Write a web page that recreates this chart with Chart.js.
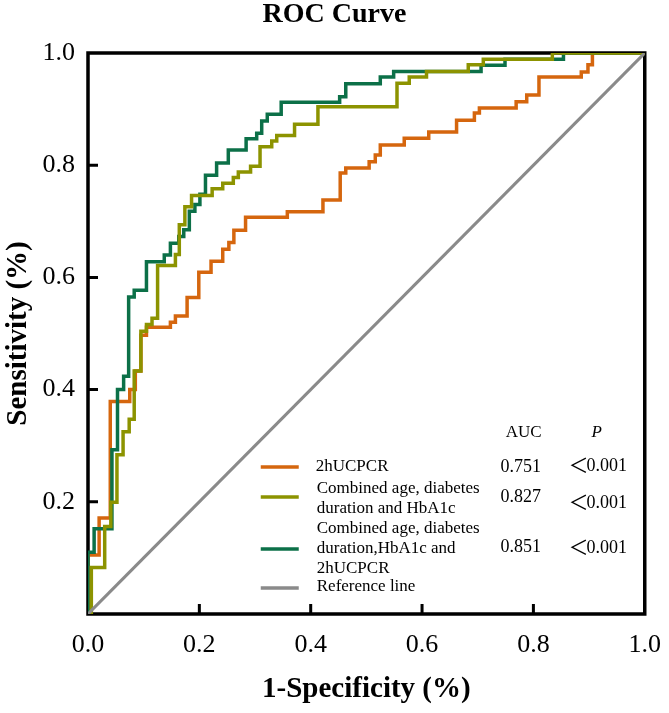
<!DOCTYPE html>
<html>
<head>
<meta charset="utf-8">
<script src="https://cdn.jsdelivr.net/npm/chart.js@4.4.0/dist/chart.umd.min.js"></script>
<style>
  html, body { margin: 0; padding: 0; background: #fff; }
  #wrap { width: 669px; height: 713px; }
</style>
</head>
<body>
<div id="wrap"><canvas id="myChart" width="669" height="713"></canvas></div>
<script>
// corners of each ROC staircase: 1-specificity (x) and sensitivity (y)
var ucpcrFpr = [0, 0, 0.020, 0.040, 0.075, 0.085, 0.095, 0.105, 0.148, 0.157, 0.178, 0.199, 0.221, 0.242, 0.253, 0.262, 0.283, 0.358, 0.422, 0.453, 0.463, 0.505, 0.516, 0.525, 0.568, 0.612, 0.662, 0.694, 0.703, 0.769, 0.788, 0.810, 0.886, 0.898, 0.906, 1.0];
var ucpcrTpr = [0, 0.105, 0.171, 0.379, 0.400, 0.433, 0.497, 0.511, 0.520, 0.531, 0.564, 0.609, 0.629, 0.650, 0.662, 0.684, 0.707, 0.717, 0.738, 0.786, 0.795, 0.806, 0.818, 0.836, 0.848, 0.859, 0.880, 0.893, 0.902, 0.913, 0.925, 0.957, 0.966, 0.979, 1.0, 1.0];

var clinFpr = [0, 0.006, 0.030, 0.041, 0.052, 0.063, 0.074, 0.083, 0.095, 0.105, 0.115, 0.125, 0.157, 0.164, 0.174, 0.186, 0.223, 0.242, 0.261, 0.270, 0.292, 0.309, 0.330, 0.339, 0.371, 0.413, 0.555, 0.577, 0.608, 0.683, 0.710, 0.834, 1.0];
var clinTpr = [0, 0.083, 0.156, 0.199, 0.284, 0.325, 0.347, 0.433, 0.504, 0.516, 0.527, 0.621, 0.641, 0.694, 0.726, 0.746, 0.758, 0.768, 0.778, 0.788, 0.798, 0.833, 0.843, 0.853, 0.873, 0.904, 0.946, 0.957, 0.967, 0.979, 0.989, 1.0, 1.0];

var allFpr = [0, 0, 0.011, 0.043, 0.053, 0.064, 0.073, 0.083, 0.105, 0.137, 0.148, 0.163, 0.172, 0.182, 0.192, 0.201, 0.211, 0.231, 0.252, 0.284, 0.303, 0.312, 0.322, 0.347, 0.452, 0.463, 0.525, 0.549, 0.706, 0.749, 0.854, 1.0];
var allTpr = [0, 0.110, 0.152, 0.293, 0.400, 0.424, 0.565, 0.577, 0.628, 0.640, 0.661, 0.673, 0.685, 0.718, 0.730, 0.748, 0.782, 0.804, 0.827, 0.847, 0.857, 0.879, 0.891, 0.912, 0.922, 0.945, 0.957, 0.967, 0.978, 0.989, 1.0, 1.0];

var refFpr = [0, 1];
var refTpr = [0, 1];

var legendLabels = [
  ["2hUCPCR"],
  ["Combined age, diabetes", "duration and HbA1c"],
  ["Combined age, diabetes", "duration,HbA1c and", "2hUCPCR"],
  ["Reference line"]
];
var aucValues = ["0.751", "0.827", "0.851"];
var pValues = ["0.001", "0.001", "0.001"];
var xTicks = [0, 0.2, 0.4, 0.6, 0.8, 1.0];
var yTicks = [0.2, 0.4, 0.6, 0.8, 1.0];

var colors = ["#d5660e", "#8c9300", "#0c7048", "#8a8a8a"];
var serif = "'Liberation Serif', 'Times New Roman', serif";

function toPoints(xs, ys) {
  return xs.map(function (x, i) { return { x: x, y: ys[i] }; });
}

// frame, inward ticks, title and the AUC table
var decorPlugin = {
  id: "decor",
  beforeDatasetsDraw: function (chart) {
    var ctx = chart.ctx, a = chart.chartArea;
    var xs = chart.scales.x, ys = chart.scales.y;
    ctx.save();
    ctx.strokeStyle = "#000";
    ctx.lineWidth = 3.5;
    ctx.strokeRect(a.left, a.top, a.right - a.left, a.bottom - a.top);
    ctx.lineWidth = 3;
    ctx.beginPath();
    xTicks.forEach(function (v) {
      if (v <= 0 || v >= 1) return;
      var px = xs.getPixelForValue(v);
      ctx.moveTo(px, a.bottom);
      ctx.lineTo(px, a.bottom - 10);
    });
    yTicks.forEach(function (v) {
      if (v <= 0 || v >= 1) return;
      var py = ys.getPixelForValue(v);
      ctx.moveTo(a.left, py);
      ctx.lineTo(a.left + 10, py);
    });
    ctx.stroke();
    ctx.restore();
  },
  afterDraw: function (chart) {
    var ctx = chart.ctx, a = chart.chartArea;
    ctx.save();
    ctx.fillStyle = "#000";
    ctx.textBaseline = "middle";
    ctx.textAlign = "center";
    ctx.font = "bold 28px " + serif;
    ctx.fillText("ROC Curve", chart.width / 2, 15);

    // table anchored to the plot's bottom right
    var sampleX = a.right - 384, labelX = a.right - 328;
    var aucX = a.right - 124, pX = a.right - 48;
    var b = a.bottom;
    ctx.font = "17px " + serif;
    ctx.fillText("AUC", aucX + 3, b - 181);
    ctx.font = "italic 17px " + serif;
    ctx.fillText("P", pX, b - 181);

    var sampleY = [b - 147, b - 117, b - 65, b - 26];
    var firstLineY = [b - 147, b - 125, b - 85, b - 27];
    var aucY = [b - 147, b - 117, b - 67];
    var pY = [b - 149, b - 112, b - 67];
    legendLabels.forEach(function (lines, i) {
      ctx.strokeStyle = colors[i];
      ctx.lineWidth = 3.5;
      ctx.beginPath();
      ctx.moveTo(sampleX, sampleY[i]);
      ctx.lineTo(sampleX + 38, sampleY[i]);
      ctx.stroke();
      ctx.font = "17px " + serif;
      ctx.textAlign = "left";
      lines.forEach(function (t, j) {
        ctx.fillText(t, labelX + (i === 0 ? -1 : 0), firstLineY[i] + j * 20);
      });
      if (i < aucValues.length) {
        ctx.textAlign = "center";
        ctx.font = "18px " + serif;
        ctx.fillText(aucValues[i], aucX, aucY[i]);
        // wide "<" sign then the number, like the original's full-width glyph
        ctx.textAlign = "left";
        var lt = "＜";
        ctx.font = "20px 'Noto Sans CJK SC', " + serif;
        var ltW = ctx.measureText(lt).width;
        ctx.font = "18px " + serif;
        var numW = ctx.measureText(pValues[i]).width;
        var startX = pX - (ltW + numW) / 2 + 2;
        ctx.font = "20px 'Noto Sans CJK SC', " + serif;
        ctx.fillText(lt, startX, pY[i]);
        ctx.font = "18px " + serif;
        ctx.fillText(pValues[i], startX + ltW - 2, pY[i] + 1);
      }
    });
    ctx.restore();
  }
};

var ctx = document.getElementById("myChart").getContext("2d");
var chart = new Chart(ctx, {
  type: "line",
  data: {
    datasets: [
      { label: "Reference line", data: toPoints(refFpr, refTpr), borderColor: colors[3], borderWidth: 3 },
      { label: "Combined age, diabetes duration and HbA1c", data: toPoints(clinFpr, clinTpr), borderColor: colors[1], stepped: true },
      { label: "Combined age, diabetes duration,HbA1c and 2hUCPCR", data: toPoints(allFpr, allTpr), borderColor: colors[2], stepped: true },
      { label: "2hUCPCR", data: toPoints(ucpcrFpr, ucpcrTpr), borderColor: colors[0], stepped: true }
    ]
  },
  options: {
    responsive: false,
    animation: false,
    events: [],
    layout: { padding: { top: 53, right: 19, left: 0, bottom: 0 } },
    elements: {
      point: { radius: 0 },
      line: { borderWidth: 3.5, fill: false, tension: 0, borderCapStyle: "butt", borderJoinStyle: "miter" }
    },
    plugins: {
      legend: { display: false },
      tooltip: { enabled: false },
      title: { display: false }
    },
    scales: {
      x: {
        type: "linear",
        min: 0,
        max: 1,
        afterBuildTicks: function (scale) {
          scale.ticks = xTicks.map(function (v) { return { value: v }; });
        },
        afterFit: function (scale) { scale.height = 99; },
        ticks: {
          color: "#000",
          font: { family: serif, size: 26 },
          padding: 8,
          maxRotation: 0,
          autoSkip: false,
          callback: function (value) { return Number(value).toFixed(1); }
        },
        grid: { display: false },
        border: { display: false },
        title: {
          display: true,
          text: "1-Specificity (%)",
          color: "#000",
          font: { family: serif, size: 29, weight: "bold" },
          padding: { top: 0, bottom: 6 }
        }
      },
      y: {
        type: "linear",
        min: 0,
        max: 1,
        afterBuildTicks: function (scale) {
          scale.ticks = yTicks.map(function (v) { return { value: v }; });
        },
        afterFit: function (scale) { scale.width = 88; },
        ticks: {
          color: "#000",
          font: { family: serif, size: 26 },
          padding: 5,
          autoSkip: false,
          callback: function (value) { return Number(value).toFixed(1); }
        },
        grid: { display: false },
        border: { display: false },
        title: {
          display: true,
          text: "Sensitivity (%)",
          color: "#000",
          font: { family: serif, size: 29, weight: "bold" },
          padding: { top: 1, bottom: 0 }
        }
      }
    }
  },
  plugins: [decorPlugin]
});
</script>
</body>
</html>
